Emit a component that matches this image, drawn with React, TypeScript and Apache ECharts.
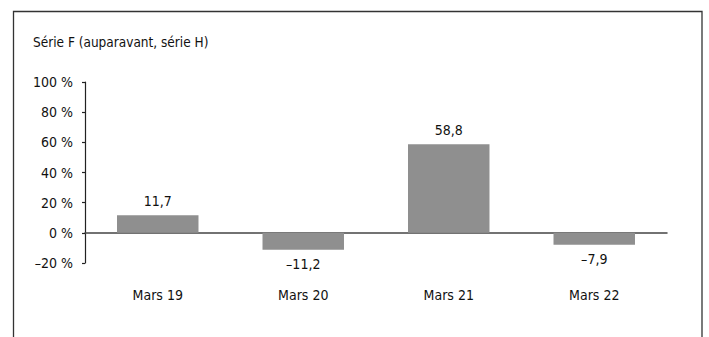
import React, { useEffect, useRef } from "react";
import * as echarts from "echarts";

const categories = ["Mars 19", "Mars 20", "Mars 21", "Mars 22"];
const values = [11.7, -11.2, 58.8, -7.9];
const yTicks = { min: -20, max: 100, interval: 20 };
const title = "Série F (auparavant, série H)";

const FONT = "'Liberation Sans Narrow', 'DejaVu Sans Condensed', 'Roboto Condensed', sans-serif";

const fmtNum = (v: number, d: number) =>
  v.toFixed(d).replace(".", ",").replace("-", "\u2013");

export default function App() {
  const ref = useRef<HTMLDivElement>(null);
  useEffect(() => {
    if (!ref.current) return;
    const chart = echarts.init(ref.current, null, { renderer: "svg" });
    chart.setOption({
      animation: false,
      textStyle: { fontFamily: FONT },
      graphic: [
        {
          type: "rect",
          shape: { x: 13.5, y: 11.5, width: 688.5, height: 340 },
          style: { fill: "none", stroke: "#333", lineWidth: 1.3 },
          silent: true,
        },
        {
          type: "text",
          left: 33,
          top: 35,
          style: { text: title, fontFamily: FONT, fontSize: 13.5, fill: "#111" },
        },
      ],
      grid: { left: 85, top: 82, right: 42, bottom: 74, containLabel: false },
      xAxis: {
        type: "category",
        data: categories,
        axisLine: { onZero: true, lineStyle: { color: "#444", width: 1.5 } },
        axisTick: { show: false },
        axisLabel: { margin: 25, fontSize: 14, color: "#111", fontFamily: FONT },
      },
      yAxis: {
        type: "value",
        min: yTicks.min,
        max: yTicks.max,
        interval: yTicks.interval,
        axisLine: { show: true, lineStyle: { color: "#222", width: 1.2 } },
        axisTick: { show: true, length: 3, lineStyle: { color: "#222", width: 1.2 } },
        splitLine: { show: false },
        axisLabel: {
          margin: 12,
          fontSize: 14,
          color: "#111",
          fontFamily: FONT,
          formatter: (v: number) => fmtNum(v, 0) + " %",
        },
      },
      series: [
        {
          type: "bar",
          barWidth: "56%",
          itemStyle: { color: "#8f8f8f" },
          data: values.map((v) => ({
            value: v,
            label: { position: v < 0 ? "bottom" : "top" },
          })),
          label: {
            show: true,
            distance: 7,
            fontSize: 14,
            color: "#111",
            fontFamily: FONT,
            formatter: (p: any) => fmtNum(p.value, 1),
          },
        },
      ],
    });
    return () => chart.dispose();
  }, []);
  return (
    <div
      ref={ref}
      style={{ position: "fixed", left: 0, top: 0, width: 709, height: 337, background: "#fff" }}
    />
  );
}
